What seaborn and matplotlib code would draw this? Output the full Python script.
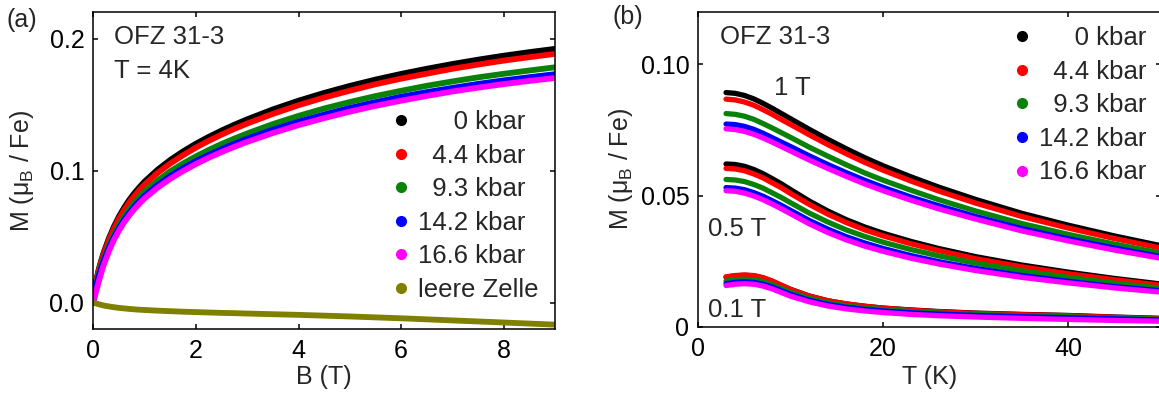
import numpy as np
import pandas as pd
import matplotlib
matplotlib.use("Agg")
import matplotlib.pyplot as plt
import seaborn as sns
from matplotlib.lines import Line2D

# ---------------- data: panel (a)  M(B) at T = 4 K ----------------
B_field = [0, 0.05, 0.1, 0.15, 0.2, 0.3, 0.4, 0.5, 0.6, 0.7, 0.8, 0.9, 1.0, 1.25, 1.5, 1.75, 2.0,
           2.25, 2.5, 2.75, 3.0, 3.5, 4.0, 4.5, 5.0, 5.5, 6.0, 6.5, 7.0, 7.5, 8.0, 8.5, 9.0]
Ma_0kbar = [0.0, 0.0154, 0.0242, 0.0313, 0.0376, 0.0483, 0.0574, 0.0652, 0.0719, 0.0778, 0.0829,
            0.0875, 0.0917, 0.1006, 0.1081, 0.1146, 0.1204, 0.1256, 0.1304, 0.1348, 0.1389, 0.1464,
            0.1530, 0.1589, 0.1642, 0.1690, 0.1733, 0.1772, 0.1808, 0.1841, 0.1871, 0.1898, 0.1923]
Ma_4kbar = [0.0, 0.0149, 0.0235, 0.0304, 0.0365, 0.0470, 0.0559, 0.0636, 0.0701, 0.0759, 0.0808,
            0.0853, 0.0894, 0.0981, 0.1054, 0.1117, 0.1175, 0.1226, 0.1273, 0.1317, 0.1357, 0.1430,
            0.1496, 0.1554, 0.1606, 0.1655, 0.1697, 0.1735, 0.1772, 0.1804, 0.1834, 0.1860, 0.1885]
Ma_9kbar = [0.0, 0.0132, 0.0211, 0.0275, 0.0333, 0.0430, 0.0514, 0.0587, 0.0651, 0.0708, 0.0756,
            0.0800, 0.0840, 0.0924, 0.0995, 0.1054, 0.1108, 0.1157, 0.1202, 0.1243, 0.1282, 0.1353,
            0.1415, 0.1471, 0.1520, 0.1565, 0.1605, 0.1643, 0.1676, 0.1707, 0.1734, 0.1759, 0.1783]
Ma_14kbar = [0.0, 0.0120, 0.0194, 0.0257, 0.0314, 0.0411, 0.0494, 0.0564, 0.0626, 0.0680, 0.0727,
             0.0770, 0.0809, 0.0890, 0.0959, 0.1019, 0.1072, 0.1119, 0.1163, 0.1204, 0.1242, 0.1310,
             0.1371, 0.1425, 0.1475, 0.1519, 0.1560, 0.1595, 0.1627, 0.1657, 0.1684, 0.1708, 0.1731]
Ma_16kbar = [0.0, 0.0077, 0.0150, 0.0219, 0.0282, 0.0386, 0.0474, 0.0546, 0.0608, 0.0661, 0.0709,
             0.0751, 0.0790, 0.0870, 0.0938, 0.0997, 0.1050, 0.1098, 0.1141, 0.1181, 0.1218, 0.1285,
             0.1345, 0.1398, 0.1447, 0.1491, 0.1530, 0.1566, 0.1600, 0.1629, 0.1656, 0.1680, 0.1702]
Ma_empty = [0.0, -0.0006, -0.0012, -0.0017, -0.0022, -0.0029, -0.0035, -0.0040, -0.0044, -0.0048,
            -0.0051, -0.0054, -0.0056, -0.0061, -0.0065, -0.0069, -0.0072, -0.0075, -0.0078, -0.0080,
            -0.0083, -0.0088, -0.0093, -0.0099, -0.0105, -0.0112, -0.0119, -0.0127, -0.0135, -0.0143,
            -0.0151, -0.0159, -0.0167]

labels_a = ["0 kbar", "4.4 kbar", "9.3 kbar", "14.2 kbar", "16.6 kbar", "leere Zelle"]
legend_text_a = ["     0 kbar", "  4.4 kbar", "  9.3 kbar", "14.2 kbar", "16.6 kbar", "leere Zelle"]
colors_a = ["#000000", "#ff0000", "#0a820a", "#0000ff", "#ff00ff", "#808000"]

# ---------------- data: panel (b)  M(T) at 1, 0.5, 0.1 T ----------------
T_temp = [3, 4, 5, 6, 7, 8, 9, 10, 12, 14, 16, 18, 20, 23, 26, 30, 35, 40, 45, 50]
fields = ["1 T", "0.5 T", "0.1 T"]
pressures = ["0 kbar", "4.4 kbar", "9.3 kbar", "14.2 kbar", "16.6 kbar"]

M1T_0kbar = [0.0893, 0.0890, 0.0882, 0.0869, 0.0852, 0.0833, 0.0813, 0.0793, 0.0753, 0.0715,
             0.0679, 0.0645, 0.0614, 0.0572, 0.0533, 0.0486, 0.0433, 0.0388, 0.0347, 0.0310]
M1T_4kbar = [0.0868, 0.0865, 0.0857, 0.0845, 0.0828, 0.0810, 0.0790, 0.0771, 0.0732, 0.0695,
             0.0660, 0.0627, 0.0597, 0.0556, 0.0518, 0.0472, 0.0421, 0.0377, 0.0337, 0.0301]
M1T_9kbar = [0.0813, 0.0810, 0.0803, 0.0791, 0.0775, 0.0758, 0.0740, 0.0722, 0.0685, 0.0651,
             0.0618, 0.0587, 0.0559, 0.0521, 0.0485, 0.0442, 0.0394, 0.0353, 0.0316, 0.0282]
M1T_14kbar = [0.0773, 0.0771, 0.0764, 0.0753, 0.0738, 0.0721, 0.0704, 0.0687, 0.0652, 0.0619,
              0.0588, 0.0559, 0.0532, 0.0495, 0.0462, 0.0421, 0.0375, 0.0336, 0.0301, 0.0268]
M1T_16kbar = [0.0755, 0.0752, 0.0745, 0.0734, 0.0720, 0.0704, 0.0687, 0.0670, 0.0636, 0.0604,
              0.0574, 0.0545, 0.0519, 0.0483, 0.0450, 0.0411, 0.0366, 0.0328, 0.0293, 0.0262]

M05T_0kbar = [0.0621, 0.0619, 0.0612, 0.0600, 0.0584, 0.0565, 0.0545, 0.0523, 0.0480, 0.0442,
              0.0409, 0.0381, 0.0357, 0.0326, 0.0299, 0.0268, 0.0236, 0.0209, 0.0185, 0.0164]
M05T_4kbar = [0.0604, 0.0602, 0.0595, 0.0583, 0.0568, 0.0549, 0.0530, 0.0508, 0.0467, 0.0430,
              0.0398, 0.0370, 0.0347, 0.0317, 0.0291, 0.0260, 0.0229, 0.0203, 0.0180, 0.0159]
M05T_9kbar = [0.0562, 0.0560, 0.0554, 0.0543, 0.0529, 0.0511, 0.0493, 0.0473, 0.0434, 0.0400,
              0.0370, 0.0345, 0.0323, 0.0295, 0.0271, 0.0243, 0.0214, 0.0189, 0.0167, 0.0148]
M05T_14kbar = [0.0531, 0.0529, 0.0523, 0.0512, 0.0498, 0.0481, 0.0463, 0.0444, 0.0406, 0.0373,
               0.0344, 0.0320, 0.0299, 0.0272, 0.0249, 0.0223, 0.0196, 0.0174, 0.0154, 0.0138]
M05T_16kbar = [0.0519, 0.0517, 0.0510, 0.0499, 0.0485, 0.0468, 0.0450, 0.0431, 0.0393, 0.0360,
               0.0332, 0.0308, 0.0288, 0.0262, 0.0240, 0.0215, 0.0189, 0.0168, 0.0149, 0.0133]

M01T_0kbar = [0.0190, 0.0195, 0.0197, 0.0195, 0.0187, 0.0174, 0.0158, 0.0143, 0.0118, 0.0100,
              0.0088, 0.0079, 0.0072, 0.0065, 0.0059, 0.0053, 0.0048, 0.0044, 0.0038, 0.0033]
M01T_4kbar = [0.0191, 0.0196, 0.0198, 0.0196, 0.0188, 0.0175, 0.0159, 0.0143, 0.0118, 0.0100,
              0.0088, 0.0079, 0.0072, 0.0064, 0.0058, 0.0052, 0.0047, 0.0043, 0.0037, 0.0032]
M01T_9kbar = [0.0175, 0.0180, 0.0182, 0.0180, 0.0173, 0.0161, 0.0146, 0.0132, 0.0109, 0.0092,
              0.0081, 0.0072, 0.0066, 0.0059, 0.0053, 0.0048, 0.0043, 0.0039, 0.0034, 0.0030]
M01T_14kbar = [0.0165, 0.0170, 0.0172, 0.0170, 0.0163, 0.0152, 0.0138, 0.0124, 0.0102, 0.0086,
               0.0075, 0.0067, 0.0061, 0.0054, 0.0049, 0.0044, 0.0039, 0.0035, 0.0031, 0.0027]
M01T_16kbar = [0.0158, 0.0163, 0.0165, 0.0163, 0.0156, 0.0145, 0.0131, 0.0117, 0.0096, 0.0080,
               0.0069, 0.0061, 0.0055, 0.0048, 0.0043, 0.0038, 0.0033, 0.0029, 0.0025, 0.0022]

legend_text_b = ["     0 kbar", "  4.4 kbar", "  9.3 kbar", "14.2 kbar", "16.6 kbar"]
colors_b = colors_a[:5]

# ---------------- build tables ----------------
series_a = [Ma_0kbar, Ma_4kbar, Ma_9kbar, Ma_14kbar, Ma_16kbar, Ma_empty]
dfA = pd.concat([pd.DataFrame({"B": B_field, "M": m, "sample": lab})
                 for lab, m in zip(labels_a, series_a)], ignore_index=True)

series_b = {
    "1 T": [M1T_0kbar, M1T_4kbar, M1T_9kbar, M1T_14kbar, M1T_16kbar],
    "0.5 T": [M05T_0kbar, M05T_4kbar, M05T_9kbar, M05T_14kbar, M05T_16kbar],
    "0.1 T": [M01T_0kbar, M01T_4kbar, M01T_9kbar, M01T_14kbar, M01T_16kbar],
}
rows = []
for f in fields:
    for p, m in zip(pressures, series_b[f]):
        rows.append(pd.DataFrame({"T": T_temp, "M": m, "pressure": p, "field": f}))
dfB = pd.concat(rows, ignore_index=True)

# ---------------- style ----------------
sns.set_theme(style="ticks")
plt.rcParams["font.family"] = ["Liberation Sans", "DejaVu Sans"]
plt.rcParams["mathtext.fontset"] = "custom"
plt.rcParams["mathtext.rm"] = "Liberation Sans"
plt.rcParams["mathtext.it"] = "Liberation Sans"
plt.rcParams["mathtext.default"] = "regular"
plt.rcParams["axes.linewidth"] = 1.1
plt.rcParams["axes.edgecolor"] = "black"

FS = 18
FSL = 18.5
fig = plt.figure(figsize=(11.59, 3.98), dpi=100)
axA = fig.add_axes([0.0805, 0.1734, 0.3984, 0.7957])
axB = fig.add_axes([0.6025, 0.1784, 0.3988, 0.7915])

sns.lineplot(data=dfA, x="B", y="M", hue="sample", hue_order=labels_a, palette=colors_a,
             estimator=None, linewidth=4.2, legend=False, ax=axA)
sns.lineplot(data=dfB, x="T", y="M", hue="pressure", hue_order=pressures, palette=colors_b,
             units="field", estimator=None, linewidth=3.8, legend=False, ax=axB)

for ax in (axA, axB):
    ax.tick_params(direction="in", top=True, right=True, length=3.6, width=1.1,
                   labelsize=FS, colors="black")
    ax.tick_params(axis="y", pad=6.5)
    ax.tick_params(axis="x", pad=7)
    for s in ax.spines.values():
        s.set_color("black")
        s.set_linewidth(1.1)

# panel (a)
axA.set_xlim(0, 9)
axA.set_ylim(-0.02, 0.22)
axA.set_xticks([0, 2, 4, 6, 8])
axA.set_yticks([0.0, 0.1, 0.2])
axA.set_yticklabels(["0.0", "0.1", "0.2"])
axA.set_xlabel("B (T)", fontsize=FS)
axA.set_ylabel("M (μ$_{B}$ / Fe)", fontsize=FS)
axA.xaxis.set_label_coords(0.5, -0.1137)
axA.yaxis.set_label_coords(-0.125, 0.5)
axA.text(0.4, 0.201, "OFZ 31-3", fontsize=FSL, va="center", ha="left")
axA.text(0.4, 0.1753, "T = 4K", fontsize=FSL, va="center", ha="left")

hA = [Line2D([], [], marker="o", ls="", color=c, markersize=7) for c in colors_a]
axA.legend(hA, legend_text_a, loc="upper left", bbox_to_anchor=(0.644, 0.6915),
           frameon=False, fontsize=FSL, handlelength=0.8, handletextpad=0.25,
           labelspacing=0.37, borderpad=0, borderaxespad=0)

# panel (b)
axB.set_xlim(0, 50)
axB.set_ylim(0, 0.12)
axB.set_xticks([0, 20, 40])
axB.set_yticks([0.0, 0.05, 0.10])
axB.set_yticklabels(["0", "0.05", "0.10"])
axB.set_xlabel("T (K)", fontsize=FS)
axB.set_ylabel("M (μ$_{B}$ / Fe)", fontsize=FS)
axB.xaxis.set_label_coords(0.5, -0.1217)
axB.yaxis.set_label_coords(-0.137, 0.5)
axB.text(2.4, 0.1104, "OFZ 31-3", fontsize=FSL, va="center", ha="left")
axB.text(10.2, 0.0909, "1 T", fontsize=FSL, va="center", ha="center")
axB.text(1.0, 0.0375, "0.5 T", fontsize=FSL, va="center", ha="left")
axB.text(1.0, 0.0063, "0.1 T", fontsize=FSL, va="center", ha="left")

hB = [Line2D([], [], marker="o", ls="", color=c, markersize=7) for c in colors_b]
axB.legend(hB, legend_text_b, loc="upper left", bbox_to_anchor=(0.679, 0.954),
           frameon=False, fontsize=FSL, handlelength=0.8, handletextpad=0.25,
           labelspacing=0.37, borderpad=0, borderaxespad=0)

fig.text(7 / 1159, 1 - 20 / 398, "(a)", fontsize=FS, va="center", ha="left")
fig.text(613 / 1159, 1 - 17 / 398, "(b)", fontsize=FS, va="center", ha="left")

fig.savefig("out.png", dpi=100)
